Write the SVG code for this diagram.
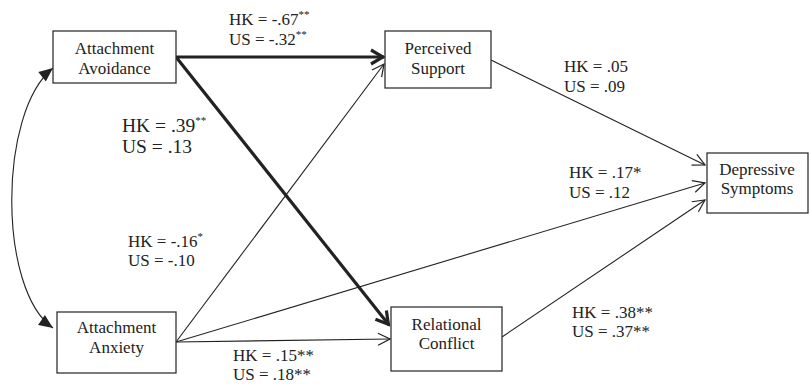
<svg xmlns="http://www.w3.org/2000/svg" width="809" height="384" viewBox="0 0 809 384">
<style>
.box{fill:#fff;stroke:#333;stroke-width:1.3}
.t{font-family:"Liberation Serif","Times New Roman",serif;font-size:17px;fill:#222}
.bt{text-anchor:middle}
.thin{stroke:#222;stroke-width:1.1;fill:none}
.thick{stroke:#222;stroke-width:3.2;fill:none}
.sup{font-size:11px}
</style>
<defs>
<marker id="av" markerUnits="userSpaceOnUse" markerWidth="16" markerHeight="16" viewBox="0 0 16 16" refX="15" refY="8" orient="auto">
<path d="M3,2 L15,8 L3,14" fill="none" stroke="#222" stroke-width="1.2"/>
</marker>
<marker id="avk" markerUnits="userSpaceOnUse" markerWidth="20" markerHeight="20" viewBox="0 0 20 20" refX="18" refY="10" orient="auto">
<path d="M5,3 L17,10 L5,17" fill="none" stroke="#222" stroke-width="3.2" stroke-linejoin="miter"/>
</marker>
<marker id="fill" markerUnits="userSpaceOnUse" markerWidth="16" markerHeight="16" viewBox="0 0 16 16" refX="15" refY="8" orient="auto-start-reverse">
<path d="M1,2 L15,8 L1,14 Z" fill="#222"/>
</marker>
</defs>
<g id="connectors">
<line class="thick" x1="176" y1="57" x2="384" y2="57" marker-end="url(#avk)"/>
<line class="thick" x1="176" y1="57" x2="389" y2="325" marker-end="url(#avk)"/>
<line class="thin" x1="176" y1="342" x2="384" y2="64" marker-end="url(#av)"/>
<line class="thin" x1="176" y1="342" x2="705" y2="183" marker-end="url(#av)"/>
<line class="thin" x1="176" y1="342" x2="390" y2="339" marker-end="url(#av)"/>
<line class="thin" x1="491" y1="60" x2="705" y2="165" marker-end="url(#av)"/>
<line class="thin" x1="502" y1="337" x2="705" y2="200" marker-end="url(#av)"/>
<path class="thin" d="M53,328 C-2,290 -2,112 53,68" marker-start="url(#fill)" marker-end="url(#fill)"/>
</g>
<g id="node-avoidance">
<rect class="box" x="53" y="31" width="123" height="52"/>
<text class="t bt" x="114.5" y="54">Attachment</text>
<text class="t bt" x="114.5" y="74">Avoidance</text>
</g>
<g id="node-support">
<rect class="box" x="385" y="31" width="106" height="57"/>
<text class="t bt" x="438" y="54">Perceived</text>
<text class="t bt" x="438" y="74">Support</text>
</g>
<g id="node-depressive">
<rect class="box" x="707" y="153" width="101" height="60"/>
<text class="t bt" x="757" y="175">Depressive</text>
<text class="t bt" x="757" y="194">Symptoms</text>
</g>
<g id="node-anxiety">
<rect class="box" x="57" y="312" width="119" height="61"/>
<text class="t bt" x="116.5" y="333">Attachment</text>
<text class="t bt" x="116.5" y="353">Anxiety</text>
</g>
<g id="node-conflict">
<rect class="box" x="391" y="307" width="111" height="64"/>
<text class="t bt" x="446.5" y="330">Relational</text>
<text class="t bt" x="446.5" y="349">Conflict</text>
</g>
<g id="labels">
<text class="t" x="229" y="25">HK = -.67<tspan class="sup" dy="-7">**</tspan></text>
<text class="t" x="229" y="45">US = -.32<tspan class="sup" dy="-7">**</tspan></text>
<text class="t" x="122" y="132" style="font-size:19.5px">HK = .39<tspan class="sup" dy="-8">**</tspan></text>
<text class="t" x="122" y="153" style="font-size:19.5px">US = .13</text>
<text class="t" x="564" y="72">HK = .05</text>
<text class="t" x="564" y="92">US = .09</text>
<text class="t" x="569" y="178">HK = .17*</text>
<text class="t" x="569" y="198">US = .12</text>
<text class="t" x="128" y="247">HK = -.16<tspan class="sup" dy="-7">*</tspan></text>
<text class="t" x="128" y="266">US = -.10</text>
<text class="t" x="233" y="361">HK = .15**</text>
<text class="t" x="233" y="380">US = .18**</text>
<text class="t" x="572" y="318">HK = .38**</text>
<text class="t" x="572" y="337">US = .37**</text>
</g>
</svg>
